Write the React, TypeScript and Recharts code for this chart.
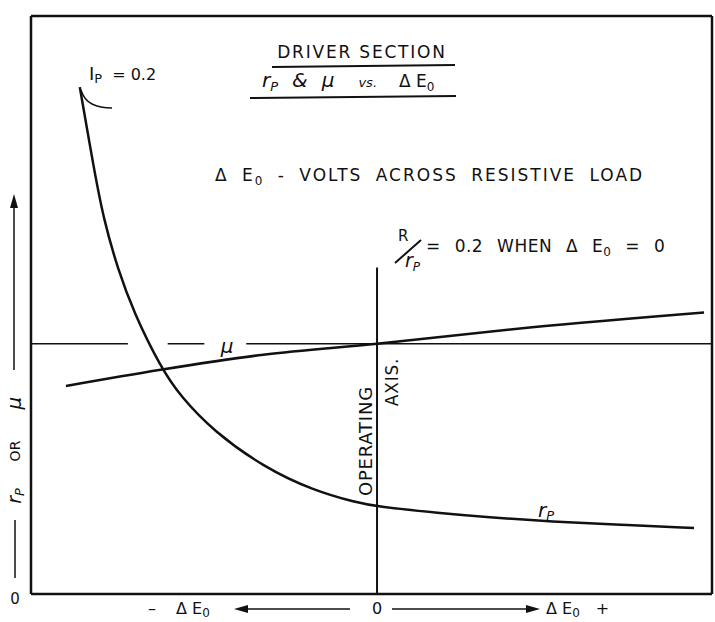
import React from 'react';
import {
  LineChart,
  Line,
  XAxis,
  YAxis,
  ReferenceLine,
  Customized,
} from 'recharts';

// ΔE0 positions (arbitrary units, 0 = operating axis)
const rpX = [-8.59, -8.18, -7.9, -7.49, -7.03, -6.25, -5.68, -4.73, -3.29, -1.84, -0.58, 0, 1.82, 3.17, 5.07, 7.0, 9.16];
const rpValues = [87.7, 73.5, 64.8, 56.2, 48.7, 39.2, 34.2, 28.2, 22.0, 17.9, 15.8, 15.1, 14.0, 13.3, 12.5, 12.0, 11.4];

const muX = [-8.99, -6.25, -3.29, 0, 4.41, 9.45];
const muValues = [36.0, 38.8, 41.4, 43.3, 46.1, 48.7];

// level of mu at the operating point, drawn as a broken horizontal line
const muLevel = 43.3;
const muLineBreaks = [
  [-10, -7.2],
  [-6.05, -4.99],
  [-3.78, 9.68],
];

const xDomain: [number, number] = [-10, 9.68];
const yDomain: [number, number] = [0, 100];
const operatingAxisTop = 56.5;

const rpData = rpX.map((x, i) => ({ x, y: rpValues[i] }));
const muData = muX.map((x, i) => ({ x, y: muValues[i] }));

const INK = '#111';
const FONT = '"DejaVu Sans", sans-serif';

function Annotations() {
  const t = { fontFamily: FONT, fill: INK } as const;
  return (
    <g>
      {/* titles */}
      <text x={362} y={58} textAnchor="middle" fontSize={17} letterSpacing={1.8} {...t}>
        DRIVER   SECTION
      </text>
      <line x1={272} y1={67} x2={455} y2={65} stroke={INK} strokeWidth={2} />

      <text x={262} y={87} fontSize={20} fontStyle="italic" {...t}>
        r<tspan fontSize={13} dy={4}>P</tspan>
        <tspan dy={-4} dx={14}>&amp;</tspan>
        <tspan dx={14}>μ</tspan>
        <tspan dx={24} fontSize={13}>vs.</tspan>
        <tspan dx={22} fontStyle="normal" fontSize={17}>Δ  E</tspan>
        <tspan fontSize={12} dy={4} fontStyle="normal">0</tspan>
      </text>
      <line x1={250} y1={98} x2={456} y2={96} stroke={INK} strokeWidth={2} />

      <text x={89} y={80} fontSize={18} {...t}>
        I<tspan fontSize={13} dy={3}>P</tspan>
        <tspan dy={-3} dx={10} fontSize={16}>= 0.2</tspan>
      </text>
      <path d="M81,90 Q84,100 92,104 T112,108" fill="none" stroke={INK} strokeWidth={1.5} />

      <text x={215} y={181} fontSize={17} wordSpacing={6} letterSpacing={2} {...t}>
        Δ E<tspan fontSize={12} dy={4}>0</tspan>
        <tspan dy={-4}> -  VOLTS  ACROSS  RESISTIVE  LOAD</tspan>
      </text>

      <text x={398} y={241} fontSize={15} {...t}>R</text>
      <line x1={395} y1={263} x2={421} y2={240} stroke={INK} strokeWidth={2} />
      <text x={405} y={267} fontSize={19} fontStyle="italic" {...t}>
        r<tspan fontSize={12} dy={4}>P</tspan>
      </text>
      <text x={426} y={252} fontSize={17} wordSpacing={8} letterSpacing={0.5} {...t}>
        = 0.2  WHEN  Δ E<tspan fontSize={12} dy={4}>0</tspan>
        <tspan dy={-4}> = 0</tspan>
      </text>

      {/* operating axis */}
      <text x={372} y={441} transform="rotate(-90 372 441)" textAnchor="middle" fontSize={18} letterSpacing={0.8} {...t}>
        OPERATING
      </text>
      <text x={398} y={382} transform="rotate(-90 398 382)" textAnchor="middle" fontSize={17} letterSpacing={0.8} {...t}>
        AXIS.
      </text>

      {/* curve labels */}
      <text x={227} y={353} textAnchor="middle" fontSize={20} fontStyle="italic" {...t}>μ</text>
      <text x={538} y={517} fontSize={20} fontStyle="italic" {...t}>
        r<tspan fontSize={13} dy={3}>P</tspan>
      </text>

      {/* y axis caption */}
      <text x={15} y={604} textAnchor="middle" fontSize={15} {...t}>0</text>
      <line x1={15} y1={578} x2={15} y2={520} stroke={INK} strokeWidth={1.5} />
      <text x={21} y={496} transform="rotate(-90 21 496)" textAnchor="middle" fontSize={19} fontStyle="italic" {...t}>
        r<tspan fontSize={13} dy={3}>P</tspan>
      </text>
      <text x={20} y={451} transform="rotate(-90 20 451)" textAnchor="middle" fontSize={14} {...t}>
        OR
      </text>
      <text x={21} y={403} transform="rotate(-90 21 403)" textAnchor="middle" fontSize={20} fontStyle="italic" {...t}>
        μ
      </text>
      <line x1={14} y1={370} x2={14} y2={202} stroke={INK} strokeWidth={1.5} />
      <polygon points="14,194 10,208 18,208" fill={INK} />

      {/* x axis caption */}
      <text x={377} y={614} fontSize={16} textAnchor="middle" {...t}>0</text>
      <text x={148} y={614} fontSize={16} {...t}>
        –<tspan dx={20}>Δ  E</tspan>
        <tspan fontSize={12} dy={3}>0</tspan>
      </text>
      <line x1={240} y1={609} x2={350} y2={609} stroke={INK} strokeWidth={1.5} />
      <polygon points="234,609 248,605 248,613" fill={INK} />
      <line x1={392} y1={609} x2={532} y2={609} stroke={INK} strokeWidth={1.5} />
      <polygon points="540,609 526,605 526,613" fill={INK} />
      <text x={546} y={614} fontSize={16} {...t}>
        Δ  E<tspan fontSize={12} dy={3}>0</tspan>
        <tspan dy={-3} dx={16}>+</tspan>
      </text>
    </g>
  );
}

export default function App() {
  return (
    <div style={{ position: 'absolute', left: 0, top: 0, background: '#fff' }}>
      <LineChart
        width={715}
        height={622}
        margin={{ top: 16, right: 3, bottom: 28, left: 31 }}
      >
        <XAxis type="number" dataKey="x" domain={xDomain} hide allowDataOverflow />
        <YAxis type="number" dataKey="y" domain={yDomain} hide allowDataOverflow />

        {/* frame */}
        <ReferenceLine x={xDomain[0]} stroke={INK} strokeWidth={2.5} />
        <ReferenceLine x={xDomain[1]} stroke={INK} strokeWidth={2.5} />
        <ReferenceLine y={yDomain[0]} stroke={INK} strokeWidth={2.5} />
        <ReferenceLine y={yDomain[1]} stroke={INK} strokeWidth={2.5} />

        {muLineBreaks.map(([a, b], i) => (
          <ReferenceLine
            key={i}
            segment={[{ x: a, y: muLevel }, { x: b, y: muLevel }]}
            stroke={INK}
            strokeWidth={1.5}
          />
        ))}
        <ReferenceLine
          segment={[{ x: 0, y: 0 }, { x: 0, y: operatingAxisTop }]}
          stroke={INK}
          strokeWidth={2}
        />

        <Line
          data={rpData}
          dataKey="y"
          type="basis"
          stroke={INK}
          strokeWidth={2.5}
          dot={false}
          isAnimationActive={false}
        />
        <Line
          data={muData}
          dataKey="y"
          type="monotone"
          stroke={INK}
          strokeWidth={2.5}
          dot={false}
          isAnimationActive={false}
        />
        <Customized component={Annotations} />
      </LineChart>
    </div>
  );
}
